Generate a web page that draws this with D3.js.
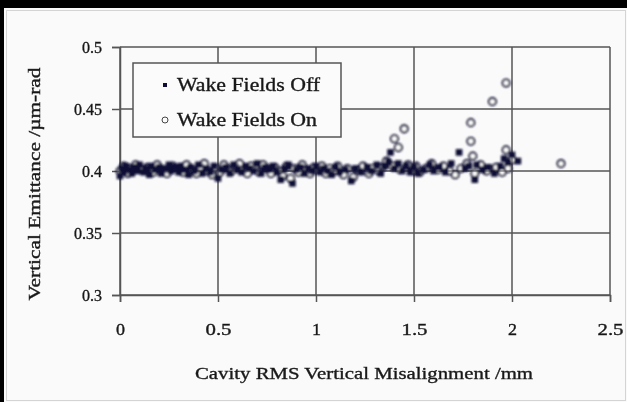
<!DOCTYPE html>
<html>
<head>
<meta charset="utf-8">
<title>Vertical Emittance vs Cavity Misalignment</title>
<script src="https://d3js.org/d3.v7.min.js"></script>
<style>
  html, body { margin: 0; padding: 0; background: #fafafa; overflow: hidden; }
  svg { display: block; }
  text { font-family: "Liberation Serif", "Times New Roman", serif; fill: #1a1a1a; stroke: #1a1a1a; stroke-width: 0.35px; }
</style>
</head>
<body>
<script>
// tick values
var xTicks = [0, 0.5, 1, 1.5, 2, 2.5];
var yTicks = [0.3, 0.35, 0.4, 0.45, 0.5];

// Wake Fields Off (filled dots)
var offX = [0.00,0.01,0.02,0.03,0.04,0.06,0.07,0.09,0.10,0.12,0.13,0.15,0.16,0.18,0.20,0.21,0.23,0.25,0.26,0.28,
            0.30,0.31,0.33,0.35,0.36,0.38,0.40,0.42,0.44,0.46,0.48,0.50,0.52,0.54,0.56,0.58,0.60,0.62,0.64,0.66,
            0.68,0.70,0.72,0.74,0.76,0.78,0.80,0.82,0.84,0.86,0.88,0.90,0.92,0.94,0.96,0.98,1.00,1.02,1.04,1.06,
            1.08,1.10,1.12,1.15,1.18,1.20,1.23,1.26,1.28,1.31,1.33,1.35,1.37,1.38,1.40,1.42,1.44,1.46,1.48,1.50,
            1.52,1.55,1.58,1.60,1.63,1.66,1.69,1.73,1.76,1.78,1.81,1.82,1.85,1.88,1.91,1.94,1.96,1.98,2.00,2.03];
var offY = [0.396,0.402,0.399,0.404,0.401,0.398,0.403,0.400,0.405,0.399,0.402,0.397,0.404,0.401,0.403,0.398,0.402,0.405,0.400,0.403,
            0.399,0.404,0.401,0.397,0.403,0.400,0.405,0.398,0.402,0.399,0.404,0.394,0.401,0.403,0.398,0.405,0.401,0.399,0.404,0.402,
            0.400,0.406,0.398,0.403,0.401,0.404,0.399,0.393,0.402,0.405,0.390,0.401,0.403,0.398,0.402,0.400,0.404,0.399,0.402,0.400,
            0.397,0.403,0.399,0.401,0.392,0.402,0.399,0.403,0.400,0.405,0.398,0.404,0.407,0.415,0.402,0.406,0.400,0.404,0.399,0.403,
            0.398,0.401,0.405,0.400,0.403,0.399,0.406,0.415,0.402,0.404,0.393,0.405,0.401,0.403,0.398,0.404,0.410,0.407,0.413,0.408];

// Wake Fields On (open circles)
var onX = [0.00,0.02,0.04,0.05,0.08,0.11,0.14,0.17,0.19,0.22,0.24,0.27,0.29,0.32,0.34,0.37,0.39,0.41,0.43,0.45,
           0.47,0.49,0.51,0.53,0.55,0.57,0.59,0.61,0.63,0.65,0.67,0.69,0.71,0.73,0.75,0.77,0.79,0.81,0.83,0.85,
           0.87,0.89,0.91,0.93,0.95,0.97,0.99,1.01,1.03,1.05,1.07,1.09,1.11,1.14,1.16,1.19,1.21,1.24,1.27,1.29,
           1.32,1.34,1.36,1.39,1.40,1.42,1.43,1.45,1.47,1.49,1.51,1.53,1.56,1.59,1.62,1.65,1.68,1.71,1.74,1.77,
           1.79,1.79,1.80,1.81,1.84,1.87,1.90,1.92,1.95,1.97,1.97,1.98,2.00,2.25];
var onY = [0.400,0.404,0.398,0.402,0.405,0.401,0.403,0.399,0.405,0.401,0.398,0.404,0.402,0.399,0.405,0.401,0.398,0.403,0.406,0.400,
           0.397,0.402,0.399,0.405,0.402,0.400,0.403,0.406,0.401,0.398,0.404,0.402,0.399,0.405,0.402,0.398,0.403,0.400,0.396,0.404,
           0.394,0.402,0.399,0.405,0.401,0.398,0.403,0.401,0.404,0.398,0.402,0.400,0.404,0.397,0.402,0.395,0.401,0.404,0.398,0.402,
           0.400,0.403,0.408,0.404,0.426,0.419,0.401,0.434,0.405,0.400,0.404,0.399,0.402,0.406,0.401,0.404,0.400,0.397,0.402,0.406,
           0.439,0.424,0.412,0.398,0.405,0.400,0.456,0.403,0.399,0.471,0.417,0.402,0.409,0.406];

var width = 627, height = 402;
var svg = d3.select("body").append("svg")
    .attr("width", width)
    .attr("height", height);

var defs = svg.append("defs");
defs.append("filter").attr("id", "soft")
    .append("feGaussianBlur").attr("stdDeviation", 0.8);
defs.append("filter").attr("id", "softText")
    .append("feGaussianBlur").attr("stdDeviation", 0.45);

// frame
svg.append("rect").attr("x", 0).attr("y", 0).attr("width", width).attr("height", height).attr("fill", "#fafafa");
svg.append("rect").attr("x", 6.5).attr("y", 10.5).attr("width", width - 8).attr("height", height - 12)
    .attr("fill", "none").attr("stroke", "#d4d4d4").attr("stroke-width", 1);
svg.append("rect").attr("x", 0).attr("y", 0).attr("width", width).attr("height", 8).attr("fill", "#000");
svg.append("rect").attr("x", 0).attr("y", 0).attr("width", 4).attr("height", height).attr("fill", "#000");

var x = d3.scaleLinear().domain([0, 2.5]).range([120, 610]);
var y = d3.scaleLinear().domain([0.3, 0.5]).range([295, 47]);

var gridColor = "#555";

// horizontal grid
svg.append("g").selectAll("line").data(yTicks).join("line")
    .attr("x1", x(0)).attr("x2", x(2.5))
    .attr("y1", d => y(d)).attr("y2", d => y(d))
    .attr("stroke", gridColor).attr("stroke-width", 1.5);

// vertical grid
svg.append("g").selectAll("line").data(xTicks).join("line")
    .attr("x1", d => x(d)).attr("x2", d => x(d))
    .attr("y1", y(0.3)).attr("y2", y(0.5))
    .attr("stroke", gridColor).attr("stroke-width", 1.5);

// axes with outside ticks
var yAxis = svg.append("g").attr("transform", "translate(" + x(0) + ",0)")
    .call(d3.axisLeft(y).tickValues(yTicks).tickSize(8).tickPadding(10).tickFormat(d3.format("")));
var xAxis = svg.append("g").attr("transform", "translate(0," + y(0.3) + ")")
    .call(d3.axisBottom(x).tickValues(xTicks).tickSize(7).tickPadding(22).tickFormat(d3.format("")));

[yAxis, xAxis].forEach(function (g) {
  g.select(".domain").attr("stroke", gridColor).attr("stroke-width", 1.5);
  g.selectAll(".tick line").attr("stroke", gridColor).attr("stroke-width", 1.5);
  g.selectAll(".tick text").attr("font-size", 16).attr("fill", "#1a1a1a")
    .attr("font-family", "Liberation Serif, serif").attr("filter", "url(#softText)");
});
xAxis.selectAll(".tick text").attr("textLength", function (d) { return String(d).length > 1 ? 26 : 9; })
    .attr("lengthAdjust", "spacingAndGlyphs");

// points
var navy = "#111135";
var pts = svg.append("g").attr("filter", "url(#soft)");

pts.append("g").selectAll("circle").data(onX).join("circle")
    .attr("cx", d => x(d))
    .attr("cy", (d, i) => y(onY[i]))
    .attr("r", 3.6)
    .attr("fill", "#fff")
    .attr("fill-opacity", 0.35)
    .attr("stroke", navy)
    .attr("stroke-width", 1.9);

pts.append("g").selectAll("rect").data(offX).join("rect")
    .attr("x", d => x(d) - 3.3)
    .attr("y", (d, i) => y(offY[i]) - 3.3)
    .attr("width", 6.6).attr("height", 6.6)
    .attr("fill", navy);

// legend
var lg = svg.append("g");
lg.append("rect").attr("x", 133).attr("y", 63).attr("width", 208).attr("height", 74)
    .attr("fill", "#fbfbfb").attr("stroke", "#555").attr("stroke-width", 1.5);
lg.append("rect").attr("x", 163).attr("y", 83).attr("width", 4).attr("height", 4).attr("fill", navy)
    .attr("filter", "url(#softText)");
lg.append("circle").attr("cx", 165).attr("cy", 120).attr("r", 3).attr("fill", "none")
    .attr("stroke", "#444").attr("stroke-width", 1);
lg.append("text").attr("x", 177).attr("y", 91).attr("font-size", 18).attr("filter", "url(#softText)")
    .attr("textLength", 143).attr("lengthAdjust", "spacingAndGlyphs").text("Wake Fields Off");
lg.append("text").attr("x", 177).attr("y", 126).attr("font-size", 18).attr("filter", "url(#softText)")
    .attr("textLength", 140).attr("lengthAdjust", "spacingAndGlyphs").text("Wake Fields On");

// axis titles
svg.append("text").attr("x", 364).attr("y", 379).attr("text-anchor", "middle").attr("font-size", 17)
    .attr("filter", "url(#softText)")
    .attr("textLength", 338).attr("lengthAdjust", "spacingAndGlyphs")
    .text("Cavity RMS Vertical Misalignment /mm");
svg.append("text").attr("transform", "translate(40,184) rotate(-90)").attr("text-anchor", "middle")
    .attr("font-size", 17).attr("filter", "url(#softText)")
    .attr("textLength", 233).attr("lengthAdjust", "spacingAndGlyphs")
    .text("Vertical Emittance /\u00b5m-rad");
</script>
</body>
</html>
